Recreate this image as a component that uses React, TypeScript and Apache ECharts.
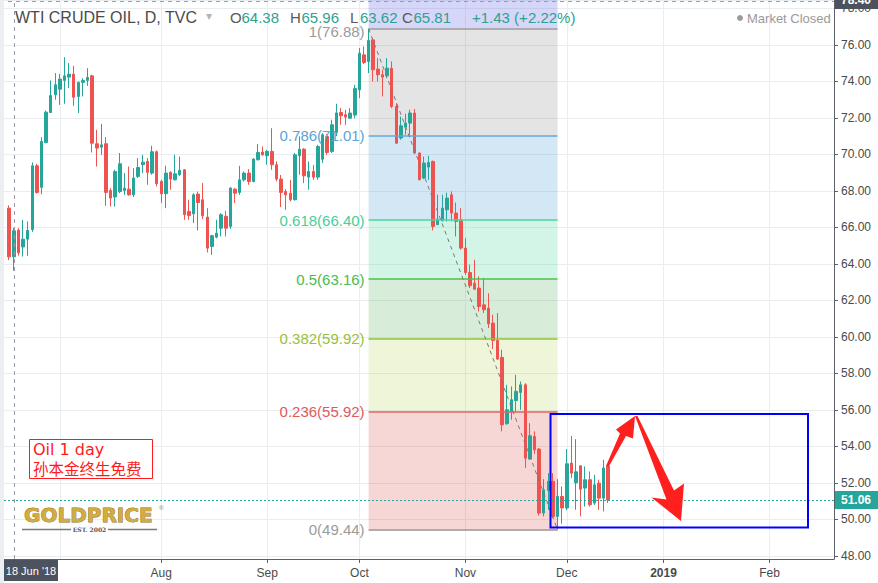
import React, { useEffect, useRef } from "react";
import * as echarts from "echarts";

// ---------- axis / time frame ----------
const AXIS_START = "2018-06-13";
const AXIS_END = "2019-02-21";
const CANDLE_START = "2018-06-15";
const priceAxisMin = 47.825;
const priceAxisMax = 78.455;

// ---------- candles: [open, close, low, high], one row per weekday ----------
const juneCandles = [
  [67.05, 64.38, 64.2, 67.2],
  [64.38, 65.81, 63.62, 65.96],
  [65.85, 64.6, 64.45, 65.95],
  [64.92, 65.35, 64.4, 66.41],
  [65.35, 65.83, 64.44, 66.32],
  [65.87, 69.37, 65.75, 69.55],
  [69.37, 67.91, 67.84, 69.48],
  [68.19, 70.7, 67.82, 70.94],
  [70.65, 72.31, 70.6, 72.4],
  [72.29, 73.22, 72.26, 74.05],
  [73.26, 73.81, 72.99, 74.45],
];
const julyCandles = [
  [73.57, 74.12, 72.71, 74.41],
  [74.05, 74.3, 72.77, 75.32],
  [74.23, 74.39, 73.63, 75.0],
  [74.39, 73.13, 72.66, 74.85],
  [73.17, 73.94, 72.26, 73.99],
  [73.94, 74.05, 73.17, 74.17],
  [74.05, 74.21, 73.75, 74.72],
  [74.3, 70.61, 70.1, 74.36],
  [70.58, 70.34, 69.33, 71.34],
  [70.39, 70.52, 69.97, 71.67],
  [70.58, 67.91, 67.18, 70.94],
  [68.02, 67.6, 67.14, 68.15],
  [67.66, 69.06, 67.14, 69.15],
  [67.96, 69.48, 67.87, 70.07],
  [68.02, 68.15, 67.78, 68.97],
  [68.09, 67.78, 67.73, 69.33],
  [67.78, 68.7, 67.66, 69.24],
  [68.79, 69.28, 68.7, 69.79],
  [69.43, 69.57, 68.97, 69.97],
  [69.61, 69.01, 68.33, 69.79],
  [68.97, 70.14, 68.88, 70.47],
  [70.14, 68.39, 68.24, 70.21],
];
const augustCandles = [
  [68.51, 67.84, 67.33, 68.6],
  [67.84, 68.97, 67.05, 69.37],
  [69.02, 68.64, 68.06, 69.06],
  [68.6, 68.93, 68.57, 69.97],
  [68.88, 69.12, 68.82, 69.88],
  [69.15, 66.69, 66.41, 69.19],
  [66.87, 66.65, 66.41, 67.51],
  [66.74, 67.78, 66.23, 67.87],
  [67.82, 67.36, 65.83, 67.96],
  [67.51, 66.63, 66.45, 68.42],
  [66.56, 64.86, 64.62, 67.05],
  [64.95, 65.54, 64.49, 65.59],
  [65.46, 65.68, 65.4, 66.41],
  [65.95, 66.69, 65.5, 66.78],
  [66.6, 65.95, 65.5, 66.9],
  [66.05, 68.15, 65.9, 68.2],
  [68.09, 67.87, 67.33, 68.15],
  [67.91, 68.6, 67.78, 69.37],
  [68.6, 68.97, 68.51, 69.06],
  [68.97, 68.51, 68.33, 69.19],
  [68.51, 69.74, 68.46, 69.79],
  [69.7, 70.1, 69.66, 70.56],
  [70.12, 69.97, 69.92, 70.43],
];
const septemberCandles = [
  [69.92, 70.16, 69.43, 70.25],
  [70.16, 69.43, 69.15, 71.43],
  [69.43, 68.64, 68.51, 69.61],
  [68.64, 67.91, 67.11, 68.87],
  [67.96, 67.78, 66.96, 68.09],
  [67.87, 67.51, 67.42, 68.6],
  [67.51, 69.97, 67.47, 70.07],
  [69.92, 70.28, 68.88, 70.98],
  [70.28, 68.82, 68.42, 70.34],
  [68.75, 69.06, 68.06, 69.61],
  [69.06, 68.75, 68.6, 69.42],
  [68.75, 70.43, 68.6, 70.52],
  [69.73, 71.07, 69.52, 71.16],
  [70.98, 70.1, 69.97, 71.12],
  [70.16, 71.62, 70.07, 71.89],
  [71.2, 72.27, 71.0, 72.77],
  [72.29, 72.11, 71.62, 72.53],
  [72.17, 72.04, 71.62, 72.44],
  [71.98, 72.26, 71.93, 72.53],
  [72.15, 73.6, 71.98, 73.81],
];
const octoberCandles = [
  [73.53, 75.54, 73.08, 75.82],
  [75.45, 75.03, 74.95, 75.91],
  [75.09, 76.24, 74.45, 76.88],
  [76.27, 74.63, 73.99, 76.36],
  [74.67, 74.36, 73.99, 75.27],
  [74.36, 74.23, 73.17, 74.63],
  [74.3, 74.72, 74.17, 75.27],
  [74.72, 72.62, 72.53, 75.09],
  [72.62, 70.61, 70.58, 72.8],
  [70.89, 71.56, 70.8, 72.07],
  [71.49, 71.71, 71.07, 72.22],
  [71.71, 72.26, 71.07, 72.44],
  [72.26, 70.07, 70.01, 72.48],
  [70.07, 68.61, 68.57, 70.1],
  [68.7, 69.52, 68.64, 69.88],
  [69.3, 69.55, 68.6, 69.92],
  [69.61, 66.05, 65.83, 69.66],
  [66.14, 66.45, 66.14, 67.79],
  [66.36, 67.05, 66.32, 67.79],
  [66.96, 67.6, 66.32, 67.9],
  [67.78, 66.78, 66.32, 67.97],
  [66.78, 66.32, 65.5, 67.36],
  [66.41, 64.86, 64.77, 67.05],
];
const novemberCandles = [
  [64.86, 63.52, 63.4, 65.41],
  [63.52, 62.8, 62.67, 63.95],
  [62.94, 62.61, 62.58, 64.22],
  [62.67, 61.66, 61.39, 63.31],
  [61.75, 61.48, 61.3, 63.22],
  [61.57, 60.71, 60.48, 62.39],
  [60.75, 59.8, 59.33, 61.21],
  [59.8, 58.78, 58.74, 61.3],
  [58.87, 55.18, 54.82, 59.29],
  [55.24, 56.0, 55.18, 57.37],
  [55.91, 56.55, 55.46, 57.28],
  [56.51, 57.01, 55.91, 57.92],
  [56.95, 57.37, 56.0, 57.55],
  [57.37, 53.35, 52.81, 57.46],
  [53.3, 54.58, 53.26, 55.27],
  [54.54, 53.81, 53.59, 54.82],
  [53.85, 50.34, 50.2, 53.9],
  [50.34, 51.62, 50.16, 52.2],
  [51.58, 52.08, 50.52, 52.53],
  [52.08, 50.16, 50.07, 52.53],
  [50.16, 51.25, 49.44, 52.2],
  [51.25, 50.62, 49.76, 51.8],
];
const decemberCandles = [
  [50.62, 53.04, 50.5, 53.85],
  [53.08, 52.53, 52.26, 54.57],
  [52.0, 52.6, 50.52, 54.39],
  [52.93, 51.65, 50.16, 52.93],
  [51.71, 52.17, 50.7, 52.9],
  [52.17, 50.8, 50.7, 52.62],
  [50.89, 51.89, 50.79, 52.44],
  [51.98, 51.16, 50.52, 52.17],
  [51.16, 52.81, 50.43, 53.26],
  [52.9, 51.06, 50.89, 52.99],
];

// ---------- fibonacci retracement ----------
const FIB_FROM = "2018-10-03";
const FIB_TO = "2018-11-29";
const fibRatios = ["1", "0.786", "0.618", "0.5", "0.382", "0.236", "0"];
const fibPrices = [76.88, 71.01, 66.4, 63.16, 59.92, 55.92, 49.44];
const fibLineColors = ["#9b9b9b", "#62a7da", "#4fd3a0", "#4cc04c", "#8cc43c", "#e06464", "#9b9191"];
const fibLabelColors = ["#9b9b9b", "#5aa4d8", "#47cf97", "#4cba4c", "#98c040", "#e05a5a", "#9b9b9b"];
const fibAboveColor = "rgba(103,108,230,0.28)";
const fibZoneColors = [
  "rgba(128,128,128,0.21)",
  "rgba(100,170,220,0.28)",
  "rgba(80,215,160,0.25)",
  "rgba(76,175,80,0.22)",
  "rgba(170,205,60,0.2)",
  "rgba(224,90,90,0.25)",
];

// ---------- misc values ----------
const lastPrice = 51.06;
const crosshairDate = "2018-06-18";
const crosshairPrice = 78.4;
const crosshairDateLabel = "18 Jun '18";
const monthLabelKeys = ["2018-08", "2018-09", "2018-10", "2018-11", "2018-12", "2019-01", "2019-02"];
const monthLabelTexts = ["Aug", "Sep", "Oct", "Nov", "Dec", "2019", "Feb"];
const headerSymbol = "WTI CRUDE OIL, D, TVC";
const headerOHLC = [
  ["O", "64.38"],
  ["H", "65.96"],
  ["L", "63.62"],
  ["C", "65.81"],
];
const headerChange = "+1.43 (+2.22%)";

const UP = "#26a69a";
const DOWN = "#ef5350";
const GRIDC = "#e8edf2";
const FONT = '"Liberation Sans", Arial, sans-serif';

function weekdays(from: string, to: string): string[] {
  const out: string[] = [];
  const d = new Date(from + "T00:00:00Z");
  const end = new Date(to + "T00:00:00Z");
  while (d.getTime() <= end.getTime()) {
    const wd = d.getUTCDay();
    if (wd !== 0 && wd !== 6) out.push(d.toISOString().slice(0, 10));
    d.setUTCDate(d.getUTCDate() + 1);
  }
  return out;
}

export default function App() {
  const ref = useRef<HTMLDivElement>(null);

  useEffect(() => {
    document.body.style.margin = "0";
    if (!ref.current) return;
    const chart = echarts.init(ref.current, undefined, { renderer: "svg" });

    const categories = weekdays(AXIS_START, AXIS_END);
    const candles = [
      ...juneCandles,
      ...julyCandles,
      ...augustCandles,
      ...septemberCandles,
      ...octoberCandles,
      ...novemberCandles,
      ...decemberCandles,
    ];
    const startIdx = categories.indexOf(CANDLE_START);
    const seriesData = categories.map((c, i) => {
      const j = i - startIdx;
      return j >= 0 && j < candles.length ? candles[j] : "-";
    });

    const monthStart = new Set<number>();
    categories.forEach((c, i) => {
      if (i > 0 && c.slice(0, 7) !== categories[i - 1].slice(0, 7)) monthStart.add(i);
    });
    const labelIdx = new Map<number, string>();
    monthStart.forEach((i) => {
      const k = monthLabelKeys.indexOf(categories[i].slice(0, 7));
      if (k >= 0) labelIdx.set(i, monthLabelTexts[k]);
    });

    // fib zones
    const zoneData: any[] = [
      [
        { coord: [FIB_FROM, priceAxisMax], itemStyle: { color: fibAboveColor } },
        { coord: [FIB_TO, fibPrices[0]] },
      ],
    ];
    for (let i = 0; i < fibZoneColors.length; i++) {
      zoneData.push([
        { coord: [FIB_FROM, fibPrices[i]], itemStyle: { color: fibZoneColors[i] } },
        { coord: [FIB_TO, fibPrices[i + 1]] },
      ]);
    }

    const lineData: any[] = [];
    fibPrices.forEach((p, i) => {
      lineData.push([
        {
          coord: [FIB_FROM, p],
          lineStyle: { color: fibLineColors[i], width: 1.5, type: "solid" },
          label: {
            show: true,
            position: "start",
            distance: 4,
            offset: i === 0 ? [0, 3] : [0, 0],
            formatter: `${fibRatios[i]}(${p.toFixed(2)})`,
            color: fibLabelColors[i],
            fontSize: 15,
            lineHeight: 15,
            fontFamily: FONT,
          },
        },
        { coord: [FIB_TO, p] },
      ]);
    });
    // trend (dashed diagonal)
    lineData.push([
      { coord: [FIB_FROM, fibPrices[0]], lineStyle: { color: "#7a7a7a", width: 1, type: [4, 4] } },
      { coord: [FIB_TO, fibPrices[fibPrices.length - 1]] },
    ]);
    // last price line
    lineData.push({ yAxis: lastPrice, lineStyle: { color: UP, width: 1, type: [2, 2] } });
    // crosshair
    lineData.push({ xAxis: crosshairDate, lineStyle: { color: "#9a9da5", width: 1, type: [4, 4] } });
    lineData.push({ yAxis: crosshairPrice, lineStyle: { color: "#9a9da5", width: 1, type: [4, 4] } });

    chart.setOption({
      animation: false,
      textStyle: { fontFamily: FONT },
      grid: { left: 0, right: 44, top: 0, bottom: 24, containLabel: false },
      xAxis: {
        type: "category",
        data: categories,
        boundaryGap: false,
        axisLine: { show: true, lineStyle: { color: "#5d606b" } },
        axisTick: {
          show: true,
          length: 4,
          interval: (i: number) => labelIdx.has(i),
          lineStyle: { color: "#5d606b" },
        },
        axisLabel: {
          interval: (i: number) => labelIdx.has(i),
          formatter: (v: string, i: number) => {
            const t = labelIdx.get(i) || "";
            return t === "2019" ? "{b|2019}" : t;
          },
          color: "#4a4a4a",
          fontSize: 12,
          margin: 8,
          rich: { b: { fontWeight: "bold", fontSize: 12, color: "#4a4a4a" } },
        },
        splitLine: {
          show: true,
          interval: (i: number) => monthStart.has(i),
          lineStyle: { color: GRIDC },
        },
      },
      yAxis: {
        type: "value",
        position: "right",
        min: priceAxisMin,
        max: priceAxisMax,
        splitNumber: 15,
        minInterval: 2,
        maxInterval: 2,
        axisLine: { show: true, lineStyle: { color: "#5d606b" } },
        axisTick: { show: true, length: 4, lineStyle: { color: "#5d606b" } },
        axisLabel: {
          margin: 7,
          color: "#4a4a4a",
          fontSize: 12,
          showMinLabel: false,
          showMaxLabel: false,
          formatter: (v: number) => v.toFixed(2),
        },
        splitLine: { show: true, lineStyle: { color: GRIDC } },
      },
      series: [
        {
          type: "candlestick",
          data: seriesData,
          barWidth: 3,
          itemStyle: {
            color: UP,
            color0: DOWN,
            borderColor: UP,
            borderColor0: DOWN,
            borderWidth: 1,
          },
          markArea: { silent: true, data: zoneData, label: { show: false } },
          markLine: {
            silent: true,
            symbol: "none",
            label: { show: false },
            data: lineData,
          },
        },
      ],
    });

    const pt = (d: string, p: number) =>
      chart.convertToPixel({ xAxisIndex: 0, yAxisIndex: 0 }, [d, p]) as number[];
    const yLast = pt(crosshairDate, lastPrice)[1];
    const yCross = pt(crosshairDate, crosshairPrice)[1];
    const axisX = 878 - 44;

    const txt = (x: number, y: number, text: string, fill: string, font: string, align = "left", extra: any = {}) => ({
      type: "text",
      x,
      y,
      z: 100,
      silent: true,
      style: {
        text,
        fill,
        font,
        align,
        textAlign: align,
        verticalAlign: "middle",
        textVerticalAlign: "middle",
        ...extra,
      },
    });

    const graphics: any[] = [
      // left page strip
      { type: "rect", z: 100, silent: true, shape: { x: 0, y: 0, width: 4, height: 583 }, style: { fill: "#eceff2" } },
      // header
      txt(15, 17, headerSymbol, "#4a4a4a", `16px ${FONT}`),
      txt(206, 16, "\u25BE", "#b2b5be", `12px ${FONT}`),
    ];
    const ohlcX = [230, 290, 350, 402];
    headerOHLC.forEach(([k, v], i) => {
      graphics.push(txt(ohlcX[i], 17, k, "#5a5a5a", `15px ${FONT}`));
      graphics.push(txt(ohlcX[i] + (k === "L" ? 10 : 11.5), 17, v, "#2fa18f", `15px ${FONT}`));
    });
    graphics.push(txt(472, 17, headerChange, "#2fa18f", `15px ${FONT}`));
    graphics.push({ type: "circle", z: 100, silent: true, shape: { cx: 740, cy: 18, r: 3 }, style: { fill: "#9b9b9b" } });
    graphics.push(txt(747, 18, "Market Closed", "#9a9a9a", `13px ${FONT}`));

    // Oil 1 day box
    graphics.push({
      type: "rect",
      z: 100,
      silent: true,
      shape: { x: 29.5, y: 439.5, width: 123, height: 39 },
      style: { fill: "#ffffff", stroke: "#ff1a1a", lineWidth: 1 },
    });
    graphics.push(txt(33, 449.5, "Oil 1 day", "#ff1a1a", `16px "DejaVu Sans", sans-serif`));
    graphics.push(txt(33, 467.5, "孙本金终生免费", "#ff1a1a", `15.5px "Noto Sans CJK SC", sans-serif`));

    // GOLDPRICE logo
    graphics.push(
      txt(24, 515, "GOLDPRICE", "#d1ac3f", `bold 20px "DejaVu Sans", sans-serif`, "left", {
        stroke: "#8a6a18",
        lineWidth: 0.8,
      })
    );
    graphics.push(txt(159, 508, "®", "#777", `6px ${FONT}`));
    graphics.push({ type: "line", z: 100, silent: true, shape: { x1: 22, y1: 529.5, x2: 71, y2: 529.5 }, style: { stroke: "#7a7a7a", lineWidth: 1.5 } });
    graphics.push({ type: "line", z: 100, silent: true, shape: { x1: 108, y1: 529.5, x2: 157, y2: 529.5 }, style: { stroke: "#7a7a7a", lineWidth: 1.5 } });
    graphics.push(txt(89.5, 529.5, "EST. 2002", "#555", `bold 6px "DejaVu Serif", serif`, "center"));

    // blue box
    graphics.push({
      type: "rect",
      z: 100,
      silent: true,
      shape: { x: 550.5, y: 414, width: 257.5, height: 113.5 },
      style: { fill: "none", stroke: "#0000ff", lineWidth: 2 },
    });
    // arrows
    graphics.push({
      type: "polygon",
      z: 101,
      silent: true,
      shape: { points: [[606, 466], [620, 433.5], [616, 429.5], [635, 416], [633, 438.5], [626, 436], [608.5, 467]] },
      style: { fill: "#ff1f1f" },
    });
    graphics.push({
      type: "polygon",
      z: 101,
      silent: true,
      shape: { points: [[635, 416], [637.5, 416], [674, 490.5], [684, 483.5], [681, 521], [651.5, 497.5], [666.5, 499.5]] },
      style: { fill: "#ff1f1f" },
    });

    // last price label
    graphics.push({ type: "rect", z: 100, silent: true, shape: { x: axisX + 1, y: yLast - 9, width: 44, height: 18 }, style: { fill: UP } });
    graphics.push(txt(axisX + 7, yLast, lastPrice.toFixed(2), "#ffffff", `bold 12px ${FONT}`));
    // crosshair price label (top)
    graphics.push({ type: "rect", z: 100, silent: true, shape: { x: axisX + 1, y: yCross - 10, width: 44, height: 18 }, style: { fill: "#4c525e" } });
    graphics.push(txt(axisX + 7, yCross - 1, crosshairPrice.toFixed(2), "#ffffff", `bold 12px ${FONT}`));
    // crosshair date label
    graphics.push({ type: "rect", z: 100, silent: true, shape: { x: 4, y: 560, width: 54, height: 21 }, style: { fill: "#4c525e" } });
    graphics.push(txt(31, 570.5, crosshairDateLabel, "#ffffff", `11px ${FONT}`, "center"));

    chart.setOption({ graphic: graphics });

    return () => chart.dispose();
  }, []);

  return <div ref={ref} style={{ width: 878, height: 583 }} />;
}
